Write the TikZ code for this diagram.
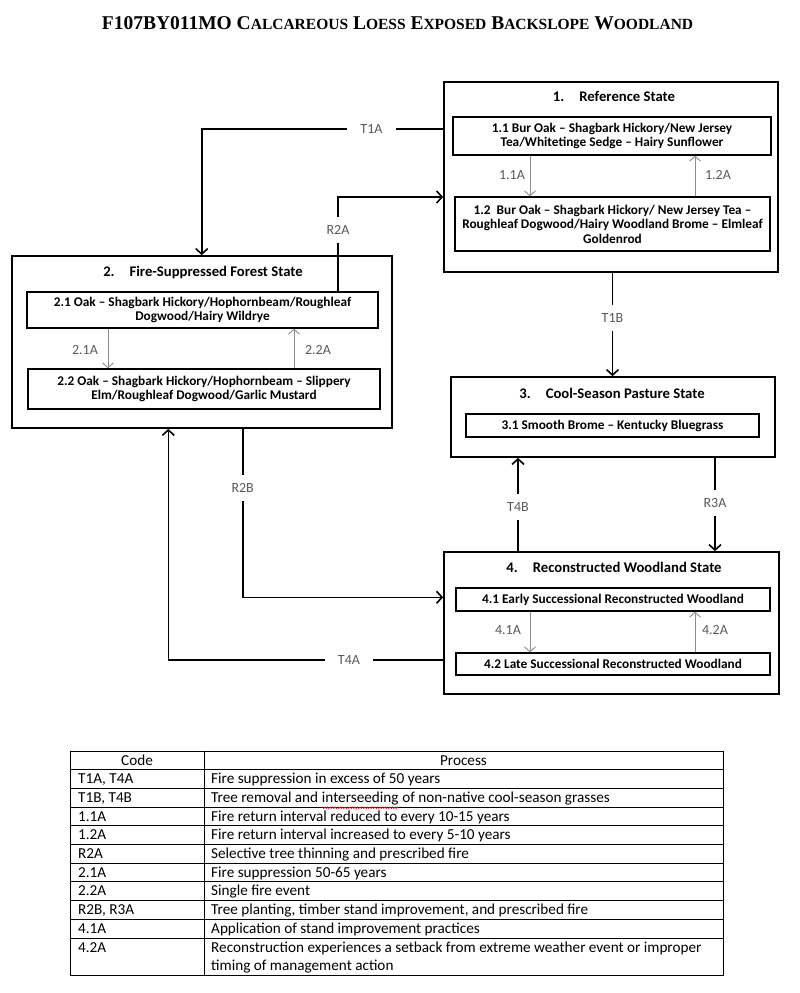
\documentclass[tikz,border=0pt]{standalone}
\usepackage{fontspec}
\setmainfont{Carlito}
\newfontfamily\titlefont{Liberation Serif}
\usetikzlibrary{arrows.meta,decorations.pathmorphing}
\newcommand\scword[2]{#1{\fontsize{15.5}{15.5}\selectfont #2}}
\begin{document}
\begin{tikzpicture}[x=1pt,y=-1pt,
  statebox/.style={draw,line width=1.7pt,inner sep=0pt},
  subbox/.style={draw,line width=1.2pt,inner sep=0pt,align=center,font=\bfseries\fontsize{13.3}{14.5}\selectfont},
  statetitle/.style={inner sep=0pt,font=\bfseries\fontsize{14.7}{16}\selectfont},
  conn/.style={line width=1.6pt,-{Straight Barb[length=5.5pt,width=12pt,line width=1.6pt]}},
  inner/.style={line width=0.9pt,draw=black!45,-{Straight Barb[length=5pt,width=11pt,line width=0.9pt]}},
  lbl/.style={inner sep=0pt,text=black!65,font=\fontsize{14}{14}\selectfont},
  gaplbl/.style={lbl,fill=white,inner xsep=13pt,inner ysep=8.5pt},
  cell/.style={inner sep=0pt,anchor=base west,font=\fontsize{15.2}{17}\selectfont},
  tline/.style={line width=0.9pt}
]
\useasboundingbox (0,0) rectangle (800,993);

% title
\node[inner sep=0pt,anchor=base,font=\titlefont\bfseries\fontsize{19.5}{19.5}\selectfont] (title) at (397.5,29)
  {F107BY011MO \scword{C}{ALCAREOUS} \scword{L}{OESS} \scword{E}{XPOSED} \scword{B}{ACKSLOPE} \scword{W}{OODLAND}};

% state 1
\node[statebox,minimum width=334,minimum height=190] (s1) at (611,177) {};
\node[statetitle] (s1t) at (614,96) {1.\hspace{15pt}Reference State};
\node[subbox,minimum width=318,minimum height=38] (b11) at (612,136)
  {1.1 Bur Oak -- Shagbark Hickory/New Jersey\\Tea/Whitetinge Sedge -- Hairy Sunflower};
\node[subbox,minimum width=315,minimum height=54] (b12) at (612.5,224)
  {1.2\ \ Bur Oak -- Shagbark Hickory/ New Jersey Tea --\\Roughleaf Dogwood/Hairy Woodland Brome -- Elmleaf\\Goldenrod};

% state 2
\node[statebox,minimum width=380,minimum height=172] (s2) at (202,342) {};
\node[statetitle] (s2t) at (203,272) {2.\hspace{15pt}Fire-Suppressed Forest State};
\node[subbox,minimum width=351,minimum height=36] (b21) at (202.5,310)
  {2.1 Oak -- Shagbark Hickory/Hophornbeam/Roughleaf\\Dogwood/Hairy Wildrye};
\node[subbox,minimum width=352,minimum height=40] (b22) at (204,389)
  {2.2 Oak -- Shagbark Hickory/Hophornbeam -- Slippery\\Elm/Roughleaf Dogwood/Garlic Mustard};

% state 3
\node[statebox,minimum width=324,minimum height=80] (s3) at (613,417) {};
\node[statetitle] (s3t) at (612,393) {3.\hspace{15pt}Cool-Season Pasture State};
\node[subbox,minimum width=293,minimum height=23] (b31) at (612.5,425.5)
  {3.1 Smooth Brome -- Kentucky Bluegrass};

% state 4
\node[statebox,minimum width=335,minimum height=142] (s4) at (611.5,623) {};
\node[statetitle] (s4t) at (614,567) {4.\hspace{15pt}Reconstructed Woodland State};
\node[subbox,minimum width=314,minimum height=23] (b41) at (613,599.5)
  {4.1 Early Successional Reconstructed Woodland};
\node[subbox,minimum width=314,minimum height=22] (b42) at (613,664)
  {4.2 Late Successional Reconstructed Woodland};

% main connectors
\draw[conn] (s1.west |- 0,129) -| (s2.north -| 201.7,0);
\node[gaplbl] (lt1a) at (371.5,129) {T1A};
\draw[conn] (b21.north -| 338,0) |- (s1.west |- 0,197);
\node[gaplbl] (lr2a) at (338,230) {R2A};
\draw[conn] (s1.south -| 612.5,0) -- (s3.north -| 612.5,0);
\node[gaplbl] (lt1b) at (612.5,318) {T1B};
\draw[conn] (s4.north -| 518,0) -- (s3.south -| 518,0);
\node[gaplbl] (lt4b) at (518,507) {T4B};
\draw[conn] (s3.south -| 715,0) -- (s4.north -| 715,0);
\node[gaplbl] (lr3a) at (715,503) {R3A};
\draw[conn] (s2.south -| 242.7,0) |- (s4.west |- 0,597.3);
\node[gaplbl] (lr2b) at (242.7,488) {R2B};
\draw[conn] (s4.west |- 0,660) -| (s2.south -| 168.3,0);
\node[gaplbl] (lt4a) at (349,660) {T4A};

% inner connectors
\draw[inner] (b11.south -| 530,0) -- (b12.north -| 530,0);
\node[lbl] (l11a) at (512,175) {1.1A};
\draw[inner] (b12.north -| 695,0) -- (b11.south -| 695,0);
\node[lbl] (l12a) at (718,175) {1.2A};
\draw[inner] (b21.south -| 108,0) -- (b22.north -| 108,0);
\node[lbl] (l21a) at (85,350) {2.1A};
\draw[inner] (b22.north -| 294,0) -- (b21.south -| 294,0);
\node[lbl] (l22a) at (318,350) {2.2A};
\draw[inner] (b41.south -| 530,0) -- (b42.north -| 530,0);
\node[lbl] (l41a) at (508,630) {4.1A};
\draw[inner] (b42.north -| 695,0) -- (b41.south -| 695,0);
\node[lbl] (l42a) at (715,630) {4.2A};

% table
\node[draw,tline,inner sep=0pt,minimum width=653,minimum height=224] (tbl) at (396.5,863) {};
\draw[tline] (tbl.north -| 204,0) -- (tbl.south -| 204,0);
\foreach \k in {1,...,10} {\draw[tline] (tbl.west |- 0,751+18.7*\k) -- (tbl.east |- 0,751+18.7*\k);}
\node[cell,anchor=base] (hc) at (137,765) {Code};
\node[cell,anchor=base] (hp) at (463.5,765) {Process};
\node[cell] (c1) at (78,783.7) {T1A, T4A};
\node[cell] (p1) at (211,783.7) {Fire suppression in excess of 50 years};
\node[cell] (c2) at (78,802.4) {T1B, T4B};
\node[cell] (p2a) at (211,802.4) {Tree removal and};
\node[cell] (p2b) at ([xshift=3.4pt]p2a.base east) {interseeding};
\node[cell] (p2c) at ([xshift=3.4pt]p2b.base east) {of non-native cool-season grasses};
\draw[red,line width=0.6pt,decorate,decoration={snake,amplitude=0.8pt,segment length=2.5pt}] ([yshift=-2.5pt]p2b.south west) -- ([yshift=-2.5pt]p2b.south east);
\node[cell] (c3) at (78,821.1) {1.1A};
\node[cell] (p3) at (211,821.1) {Fire return interval reduced to every 10-15 years};
\node[cell] (c4) at (78,839.8) {1.2A};
\node[cell] (p4) at (211,839.8) {Fire return interval increased to every 5-10 years};
\node[cell] (c5) at (78,858.5) {R2A};
\node[cell] (p5) at (211,858.5) {Selective tree thinning and prescribed fire};
\node[cell] (c6) at (78,877.2) {2.1A};
\node[cell] (p6) at (211,877.2) {Fire suppression 50-65 years};
\node[cell] (c7) at (78,895.9) {2.2A};
\node[cell] (p7) at (211,895.9) {Single fire event};
\node[cell] (c8) at (78,914.6) {R2B, R3A};
\node[cell] (p8) at (211,914.6) {Tree planting, timber stand improvement, and prescribed fire};
\node[cell] (c9) at (78,933.3) {4.1A};
\node[cell] (p9) at (211,933.3) {Application of stand improvement practices};
\node[cell] (c10) at (78,952) {4.2A};
\node[cell] (p10) at (211,952) {Reconstruction experiences a setback from extreme weather event or improper};
\node[cell] (p10b) at (211,970) {timing of management action};
\end{tikzpicture}
\end{document}
